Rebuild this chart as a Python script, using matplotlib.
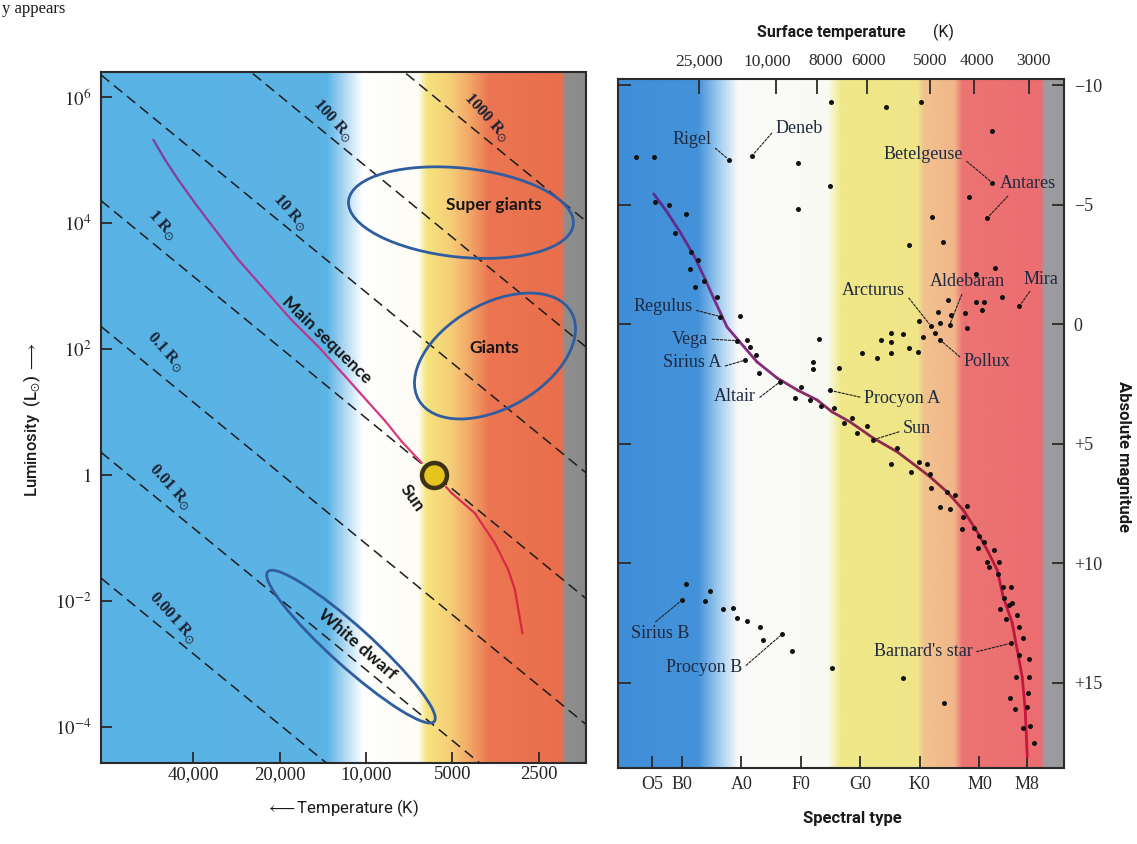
import numpy as np
import matplotlib
matplotlib.use("Agg")
import matplotlib.pyplot as plt
from matplotlib.patches import Ellipse
from matplotlib.transforms import ScaledTranslation
from matplotlib.collections import LineCollection
from matplotlib.colors import to_rgb

plt.rcParams['font.family'] = ['DejaVu Sans']
plt.rcParams['mathtext.fontset'] = 'stix'
SERIF = ['Liberation Serif', 'DejaVu Serif']
SANS = ['Lato', 'DejaVu Sans']
ROBO = ['Roboto', 'DejaVu Sans']

# ================= LEFT PANEL DATA (theoretical HR diagram) =================
lum_ticks = [1e6, 1e4, 1e2, 1, 1e-2, 1e-4]
lum_tick_labels = [r"$10^{6}$", r"$10^{4}$", r"$10^{2}$", r"$1$", r"$10^{-2}$", r"$10^{-4}$"]
teff_ticks = [40000, 20000, 10000, 5000, 2500]
teff_tick_labels = ["40,000", "20,000", "10,000", "5000", "2500"]
T_HOT, T_COOL = 83900, 1720          # temperature range of the axis
LOGL_MIN, LOGL_MAX = -4.58, 6.41

radius_names = ["1000", "100", "10", "1", "0.1", "0.01", "0.001"]
radius_logL_hot = [10.36, 8.36, 6.36, 4.36, 2.36, 0.36, -1.64]     # log L at T_HOT
radius_logL_cool = [4.04, 2.04, 0.04, -1.96, -3.96, -5.96, -7.96]  # log L at T_COOL
radius_label_T = [3790, 13040, 18410, 51400, 49800, 48250, 47100]
radius_label_logL = [5.68, 5.64, 4.18, 3.97, 1.96, -0.19, -2.27]

ms_hot_T = [55150, 50200, 45100, 39460, 33610, 27880, 22500, 18170, 14670, 11840, 9845, 8593, 7513, 6400]
ms_hot_logL = [5.33, 5.01, 4.69, 4.32, 3.90, 3.42, 2.94, 2.46, 2.04, 1.57, 1.16, 0.86, 0.53, 0.19]
ms_cool_T = [5267, 5030, 4175, 3555, 3196, 3028, 2853]
ms_cool_logL = [-0.19, -0.29, -0.61, -1.09, -1.51, -1.83, -2.52]

sun_T, sun_L = 5778, 1.0

region_names = ["Super giants", "Giants", "White dwarf"]
region_T = [4672, 3555, 11290]
region_logL = [4.17, 1.89, -2.73]

# ================= RIGHT PANEL DATA (observational HR diagram) =================
spec_ticks = [5, 10, 20, 30, 40, 50, 60, 68]
spec_labels = ["O5", "B0", "A0", "F0", "G0", "K0", "M0", "M8"]
temp_top_pos = [12.9, 25.8, 32.7, 41.1, 51.7, 59.1, 68.4]
temp_top_labels = ["25,000", "10,000", "8000", "6000", "5000", "4000", "3000"]
mag_ticks = [-10, -5, 0, 5, 10, 15]
mag_labels = ["\u221210", "\u22125", "0", "+5", "+10", "+15"]

star_s = [35.08, 44.33, 50.16, 62.19, 2.36, 5.39, 17.89, 21.81, 29.54, 34.85, 29.54, 62.19,
          58.16, 61.25, 51.97, 48.19, 53.96, 62.53, 59.40,
          63.77, 66.71, 59.37, 60.80, 54.80, 53.12, 57.61, 60.41, 55.20, 49.92, 51.84, 53.40,
          54.97, 57.89, 52.56, 53.40,
          45.17, 47.13, 43.49, 45.17, 50.60, 48.19, 49.76, 45.17, 42.87, 40.24, 36.48, 33.12,
          32.06, 32.06, 34.92, 19.84,
          5.55, 7.91, 10.71, 8.92, 11.55, 12.68, 11.44, 13.79, 12.18, 15.92, 16.48, 19.29, 20.97,
          21.42, 22.53, 20.68, 22.93, 26.56, 30.09, 29.08, 31.50, 33.40,
          35.59, 38.56, 37.27, 41.08, 39.40, 42.09, 46.13, 45.12, 49.87, 51.17, 48.53, 51.72,
          51.84, 54.53, 55.92, 53.29, 55.08, 57.99, 57.32, 59.00, 57.05,
          59.84, 60.68, 59.74, 62.36, 61.25, 63.20, 61.52, 63.10, 63.94, 65.29, 64.04, 65.45,
          64.88, 63.37, 64.50, 66.29, 66.56, 67.24, 65.29, 66.68, 68.24, 66.18, 68.24, 68.14,
          65.17, 66.01, 67.97, 67.24, 68.41, 69.08,
          47.13, 54.08, 35.30,
          10.76, 10.04, 14.80, 13.96, 16.93, 18.56, 19.29, 20.97, 23.20, 23.66, 26.85, 28.53]
star_M = [-9.31, -9.11, -9.30, -8.11, -7.00, -7.00, -6.90, -7.06, -6.74, -5.81, -4.85, -5.92,
          -5.32, -4.44, -4.51, -3.34, -3.44, -2.36, -2.11,
          -1.14, -0.77, -0.94, -0.94, -1.04, -0.54, -0.49, -0.61, -0.40, -0.15, 0.06, -0.08,
          0.03, 0.16, 0.37, 0.65,
          0.34, 0.41, 0.65, 0.72, 0.51, 0.97, 1.14, 1.18, 1.39, 1.18, 1.81, 0.61,
          1.56, 1.87, 2.76, -0.36,
          -5.14, -5.00, -4.62, -3.83, -3.02, -2.70, -2.32, -1.81, -1.56, -1.16, -0.33, 0.68, 0.65,
          0.95, 1.28, 1.49, 2.02, 2.39, 2.63, 3.09, 3.16, 3.41,
          3.51, 3.92, 4.13, 4.23, 4.55, 4.83, 5.18, 5.85, 5.77, 5.85, 6.16, 6.27,
          6.83, 7.00, 7.13, 7.65, 7.73, 7.59, 8.04, 8.53, 8.57,
          8.85, 9.09, 9.36, 9.44, 9.92, 9.92, 10.13, 10.45, 10.97, 11.00, 11.46, 11.67,
          11.74, 11.92, 12.33, 12.15, 12.64, 13.13, 13.34, 13.83, 14.01, 14.74, 14.76, 15.43,
          15.64, 16.09, 16.02, 16.90, 16.80, 17.52,
          14.78, 15.85, 14.37,
          10.86, 11.53, 11.14, 11.57, 11.92, 11.87, 12.29, 12.39, 12.64, 13.20, 12.96, 13.65]

msr_s = [5.29, 7.52, 9.71, 12.06, 13.91, 15.42, 17.61, 20.46, 22.65, 26.01, 29.37, 32.73, 35.25,
         38.28, 42.14, 46.18, 49.54, 51.72, 54.58, 57.27, 59.62, 61.30, 62.98, 63.99, 65.50,
         66.34, 67.18, 67.69, 68.03]
msr_M = [-5.46, -4.71, -3.87, -2.87, -1.90, -1.06, 0.11, 0.94, 1.57, 2.24, 2.74, 3.16, 3.66,
         4.08, 4.75, 5.33, 5.96, 6.38, 7.01, 7.76, 8.68, 9.44, 10.27, 11.40, 12.49,
         13.62, 14.75, 16.13, 18.10]

named_stars = ["Rigel", "Deneb", "Betelgeuse", "Antares", "Mira", "Aldebaran", "Arcturus",
               "Pollux", "Regulus", "Vega", "Sirius A", "Altair", "Procyon A", "Sun",
               "Sirius B", "Procyon B", "Barnard's star"]
named_s = [17.89, 21.81, 62.19, 61.25, 66.71, 54.97, 51.84, 53.40, 16.48, 19.29, 20.68, 26.56,
           34.92, 42.09, 10.04, 26.85, 65.29]
named_M = [-6.90, -7.06, -5.92, -4.44, -0.77, 0.03, 0.06, 0.65, -0.33, 0.68, 1.49, 2.39,
           2.76, 4.83, 11.53, 12.96, 13.34]
S_MIN, S_MAX = -0.71, 74.2
M_TOP, M_BOT = -10.27, 18.56

# ================= FIGURE =================
W, H = 1137, 844
fig = plt.figure(figsize=(W / 100, H / 100), dpi=100)
fig.patch.set_facecolor('white')


def gradient_bg(rect, stops):
    bg = fig.add_axes(rect, zorder=0)
    xs = np.linspace(0, 1, 1200)
    pos = [p for p, _ in stops]
    cols = np.array([to_rgb(c) for _, c in stops])
    img = np.stack([np.interp(xs, pos, cols[:, i]) for i in range(3)], axis=-1)[None, :, :]
    bg.imshow(img, extent=[0, 1, 0, 1], aspect='auto', interpolation='bilinear')
    bg.set_xlim(0, 1)
    bg.set_ylim(0, 1)
    bg.set_axis_off()


def gradient_line(ax, x, y, colors, lw, z=4):
    pts = np.column_stack([x, y])
    segs = np.stack([pts[:-1], pts[1:]], axis=1)
    n = len(segs)
    f = np.linspace(0, 1, n)
    pos = np.linspace(0, 1, len(colors))
    cols = np.array([to_rgb(c) for c in colors])
    c = np.stack([np.interp(f, pos, cols[:, i]) for i in range(3)], axis=-1)
    lc = LineCollection(segs, colors=c, linewidths=lw, zorder=z, capstyle='round', joinstyle='round')
    ax.add_collection(lc)


# ---------- Left panel ----------
rectL = [101 / W, 1 - 763 / H, 484.5 / W, (763 - 71.7) / H]
gradient_bg(rectL, [(0.0, '#58b2e4'), (0.466, '#5cb4e5'), (0.50, '#a9d6f1'), (0.54, '#ffffff'),
                    (0.655, '#fdfcf4'), (0.672, '#f6e47e'), (0.72, '#f5cf78'), (0.76, '#f2a868'),
                    (0.80, '#ec7652'), (0.95, '#e96e4c'), (0.958, '#8e8e8e'), (1.0, '#8a8a8a')])
axL = fig.add_axes(rectL, zorder=1)
axL.patch.set_alpha(0)
axL.set_xscale('log')
axL.set_yscale('log')

for name, lh, lc_, tx, ty in zip(radius_names, radius_logL_hot, radius_logL_cool,
                                 radius_label_T, radius_label_logL):
    axL.plot([T_HOT, T_COOL], [10 ** lh, 10 ** lc_], color='#1d1d1d', lw=1.1,
             dashes=(7, 4), zorder=3)
    axL.text(tx, 10 ** ty, name + r" R$_{\odot}$", rotation=-48, ha='center', va='center',
             fontsize=12, family=SERIF, weight='bold', color='#1c2233', zorder=5)

gradient_line(axL, ms_hot_T, [10 ** v for v in ms_hot_logL],
              ['#7a3f9c', '#9b3a98', '#c8358a', '#de3a7a'], 1.6)
gradient_line(axL, ms_cool_T, [10 ** v for v in ms_cool_logL],
              ['#d9305a', '#d8263e'], 1.6)

axL.plot([sun_T], [sun_L], marker='o', ms=18, mfc='#e6c41e', mec='#3d3214', mew=3.2, zorder=6)

ell_size = [(2.26, 0.89, -6), (1.76, 1.04, 30), (2.24, 0.40, -42)]
for (w, h, a), T, lL in zip(ell_size, region_T, region_logL):
    tr = fig.dpi_scale_trans + ScaledTranslation(T, 10 ** lL, axL.transData)
    e = Ellipse((0, 0), w, h, angle=a, transform=tr, fill=False, ec='#2f5d9f', lw=2.0, zorder=5)
    axL.add_artist(e)

txt_kw = dict(family=SANS, weight='bold', color='#161616', zorder=7, ha='center', va='center')
axL.text(3584, 10 ** 4.29, "Super giants", fontsize=12.5, **txt_kw)
axL.text(3584, 10 ** 2.02, "Giants", fontsize=12.5, **txt_kw)
axL.text(13680, 10 ** 2.15, "Main sequence", fontsize=12.5, rotation=-44, **txt_kw)
axL.text(6920, 10 ** -0.37, "Sun", fontsize=12.5, rotation=-55, **txt_kw)
axL.text(10760, 10 ** -2.70, "White dwarf", fontsize=12.5, rotation=-41, **txt_kw)

axL.set_xlim(T_HOT, T_COOL)
axL.set_ylim(10 ** LOGL_MIN, 10 ** LOGL_MAX)
axL.set_xticks(teff_ticks)
axL.set_xticklabels(teff_tick_labels)
axL.set_yticks(lum_ticks)
axL.set_yticklabels(lum_tick_labels)
axL.minorticks_off()
axL.tick_params(axis='both', direction='in', length=8, width=1.3, color='#2a2a2a',
                labelsize=13.5, labelcolor='#222222')
axL.tick_params(axis='x', pad=2)
axL.tick_params(axis='y', pad=7)
for lab in axL.get_xticklabels() + axL.get_yticklabels():
    lab.set_family(SERIF)
for sp in axL.spines.values():
    sp.set_color('#2a2a2a')
    sp.set_linewidth(1.5)

fig.text(32 / W, 1 - 420 / H, r"Luminosity  (L$_{\odot}$) $\longrightarrow$", rotation=90,
         ha='center', va='center', fontsize=12, family=ROBO, weight='medium', color='#1a1a1a')
fig.text(343 / W, 1 - 808 / H, r"$\longleftarrow$Temperature (K)", ha='center', va='center',
         fontsize=12, family=ROBO, color='#1a1a1a')

# ---------- Right panel ----------
rectR = [618 / W, 1 - 768 / H, 446 / W, (768 - 79) / H]
gradient_bg(rectR, [(0.0, '#3f8ed8'), (0.18, '#4493da'), (0.225, '#9ecbef'), (0.27, '#fafafa'),
                    (0.47, '#fbfbf4'), (0.50, '#efe888'), (0.672, '#efe589'), (0.686, '#f1c28e'),
                    (0.755, '#f1b68a'), (0.772, '#ec7473'), (0.948, '#ec6d70'),
                    (0.958, '#9d9ca0'), (1.0, '#9a9a9e')])
axR = fig.add_axes(rectR, zorder=1)
axR.patch.set_alpha(0)

gradient_line(axR, msr_s, msr_M, ['#5b2c8f', '#7f2d88', '#8c2b62', '#8e2a40', '#b81a3c', '#c8163c'], 2.0)
axR.scatter(star_s, star_M, s=13, color='#121212', zorder=6, linewidths=0)

lab_layout = {
    "Rigel": ((11.72, -7.72), (1.0, 0.2)), "Deneb": ((29.71, -8.18), (0.0, 0.5)),
    "Betelgeuse": ((50.55, -7.10), (1.0, 0.3)), "Antares": ((68.19, -5.88), (0.2, 0.0)),
    "Mira": ((70.38, -1.90), (0.25, 0.0)), "Aldebaran": ((57.94, -1.78), (0.45, 0.0)),
    "Arcturus": ((42.23, -1.44), (1.0, 0.3)), "Pollux": ((61.30, 1.57), (0.0, 0.6)),
    "Regulus": ((6.85, -0.77), (1.0, 0.3)), "Vega": ((11.39, 0.61), (1.0, 0.5)),
    "Sirius A": ((11.72, 1.61), (1.0, 0.25)), "Altair": ((18.95, 3.03), (1.0, 0.3)),
    "Procyon A": ((47.02, 3.08), (0.0, 0.5)), "Sun": ((49.54, 4.37), (0.0, 0.4)),
    "Sirius B": ((6.34, 12.95), (0.35, 1.0)), "Procyon B": ((13.74, 14.37), (1.0, 0.45)),
    "Barnard's star": ((50.55, 13.70), (1.0, 0.45)),
}
for name, s, m in zip(named_stars, named_s, named_M):
    (tx, ty), rp = lab_layout[name]
    axR.annotate(name, xy=(s, m), xytext=(tx, ty), textcoords='data', ha='center', va='center',
                 fontsize=13, family=SERIF, color='#1f2940', zorder=7,
                 arrowprops=dict(arrowstyle='-', color='#1f1f1f', lw=0.8, linestyle=(0, (2.2, 1.4)),
                                 shrinkA=1, shrinkB=2, relpos=rp))

axR.set_xlim(S_MIN, S_MAX)
axR.set_ylim(M_BOT, M_TOP)
axR.set_xticks(spec_ticks)
axR.set_xticklabels(spec_labels)
axR.set_yticks(mag_ticks)
axR.set_yticklabels(mag_labels)
axR.tick_params(axis='both', direction='in', length=9, width=1.3, color='#2a2a2a',
                labelsize=13, labelcolor='#2a2a2a')
axR.tick_params(axis='y', left=True, right=True, labelleft=False, labelright=True, pad=7)
axR.tick_params(axis='x', pad=6)
for lab in axR.get_xticklabels() + axR.get_yticklabels():
    lab.set_family(SERIF)
for sp in axR.spines.values():
    sp.set_color('#2a2a2a')
    sp.set_linewidth(1.5)

# top temperature scale: ticks on the frame, labels spread so they do not collide
axT = axR.twiny()
axT.set_xlim(S_MIN, S_MAX)
axT.set_xticks(temp_top_pos)
axT.set_xticklabels([])
axT.tick_params(axis='x', direction='in', length=11, width=1.3, color='#2a2a2a')
for sp in axT.spines.values():
    sp.set_visible(False)
top_label_shift = [0.0, -1.4, 1.4, 0.3, 0.0, 0.4, 0.6]
for p, lab, dx in zip(temp_top_pos, temp_top_labels, top_label_shift):
    axT.text(p + dx, 1.0, lab, transform=axT.get_xaxis_transform(), ha='center', va='bottom',
             fontsize=12.5, family=SERIF, color='#2a2a2a')
    # nudge above frame
for t in axT.texts:
    t.set_y(1.014)

fig.text(831 / W, 1 - 32 / H, "Surface temperature", ha='center', va='center', fontsize=11.5,
         family=ROBO, weight='bold', color='#1a1a1a')
fig.text(943 / W, 1 - 32 / H, "(K)", ha='center', va='center', fontsize=11.5,
         family=ROBO, color='#1a1a1a')
fig.text(852 / W, 1 - 818 / H, "Spectral type", ha='center', va='center', fontsize=12,
         family=ROBO, weight='bold', color='#1a1a1a')
fig.text(1124 / W, 1 - 457 / H, "Absolute magnitude", ha='center', va='center', rotation=270,
         fontsize=12, family=ROBO, weight='bold', color='#1a1a1a')

# page text fragment at the very top
fig.text(2 / W, 1 - 1 / H, "y appears", ha='left', va='top', fontsize=12,
         family=SERIF, color='#1a1a1a')

fig.savefig("out.png", dpi=100, facecolor='white')
